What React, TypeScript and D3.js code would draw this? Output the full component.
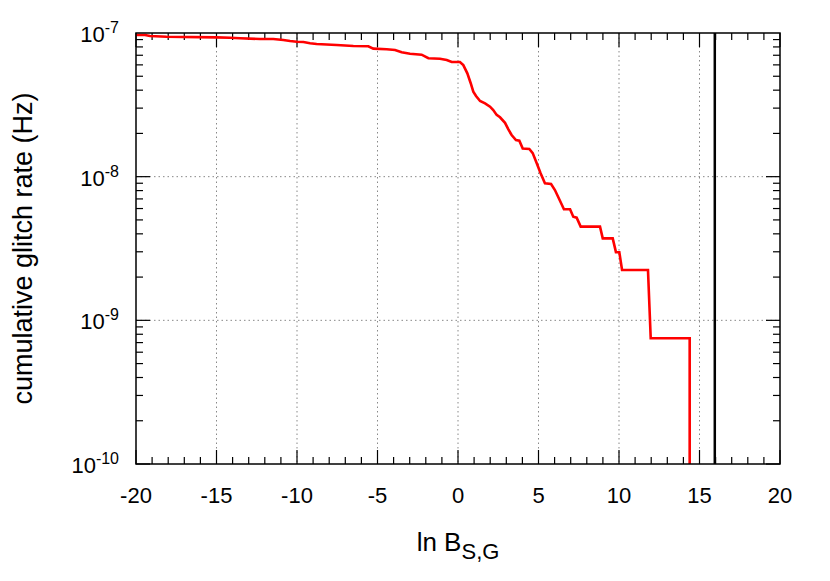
import { useEffect, useRef } from "react";
import * as d3 from "d3";

// cumulative glitch rate vs ln B_S,G
const lnB = [
  -20, -19.44, -19.13, -18.1, -15, -14.16, -13.54, -12.3, -11.47, -10.85,
  -10.43, -10.02, -9.6, -9.19, -8.78, -7.54, -6.5, -5.57, -5.26, -4.43,
  -3.91, -3.5, -2.98, -2.26, -1.84, -1.12, -0.7, -0.39, 0.12, 0.33,
  0.58, 0.79, 0.95, 1.12, 1.37, 1.68, 1.99, 2.19, 2.4, 2.61,
  2.92, 3.12, 3.33, 3.6, 3.81, 4.02, 4.43, 4.64, 4.89, 5.13,
  5.4, 5.78, 6.02, 6.29, 6.58, 6.96, 7.16, 7.37, 7.62, 8.82,
  8.99, 9.61, 9.77, 9.81, 10.02, 10.19, 11.8, 11.97, 14.39, 14.39,
];
const rate = [
  9.68e-8, 9.68e-8, 9.53e-8, 9.42e-8, 9.33e-8, 9.27e-8, 9.19e-8, 9.08e-8, 9.08e-8, 8.94e-8,
  8.8e-8, 8.7e-8, 8.66e-8, 8.48e-8, 8.38e-8, 8.25e-8, 8.12e-8, 8.08e-8, 7.78e-8, 7.7e-8,
  7.61e-8, 7.34e-8, 7.18e-8, 7.06e-8, 6.67e-8, 6.62e-8, 6.49e-8, 6.28e-8, 6.28e-8, 5.98e-8,
  5.24e-8, 4.47e-8, 3.9e-8, 3.64e-8, 3.36e-8, 3.24e-8, 3.07e-8, 2.91e-8, 2.69e-8, 2.59e-8,
  2.37e-8, 2.14e-8, 1.95e-8, 1.8e-8, 1.78e-8, 1.57e-8, 1.56e-8, 1.46e-8, 1.24e-8, 1.055e-8,
  8.99e-9, 8.89e-9, 8.07e-9, 6.96e-9, 5.93e-9, 5.93e-9, 5.26e-9, 5.18e-9, 4.49e-9, 4.49e-9,
  3.72e-9, 3.72e-9, 3.12e-9, 2.98e-9, 2.98e-9, 2.24e-9, 2.24e-9, 7.5e-10, 7.5e-10, 5e-11,
];

const threshold = 15.95;

const xTicks = [-20, -15, -10, -5, 0, 5, 10, 15, 20];
const yExponents = [-10, -9, -8, -7];

const App = () => {
  const svgRef = useRef(null);

  useEffect(() => {
    document.body.style.margin = "0";
    const svg = d3.select(svgRef.current);
    svg.selectAll("*").remove();

    const margin = { top: 33, right: 50, bottom: 117, left: 136 };
    const width = 830 - margin.left - margin.right;
    const height = 581 - margin.top - margin.bottom;
    const font = "'Liberation Sans', Arial, Helvetica, sans-serif";

    const x = d3.scaleLinear().domain([-20, 20]).range([0, width]);
    const y = d3.scaleLog().domain([1e-10, 1e-7]).range([height, 0]);

    const g = svg
      .append("g")
      .attr("transform", `translate(${margin.left},${margin.top})`);

    g.append("clipPath")
      .attr("id", "plot-clip")
      .append("rect")
      .attr("width", width)
      .attr("height", height);

    // grid
    const grid = g.append("g").attr("stroke", "#888").attr("stroke-width", 1)
      .attr("stroke-dasharray", "1.5,3");
    xTicks.slice(1, -1).forEach((t) => {
      grid.append("line").attr("x1", x(t)).attr("x2", x(t)).attr("y1", 0).attr("y2", height);
    });
    yExponents.slice(1, -1).forEach((e) => {
      grid.append("line").attr("x1", 0).attr("x2", width)
        .attr("y1", y(Math.pow(10, e))).attr("y2", y(Math.pow(10, e)));
    });

    // ticks
    const ticks = g.append("g").attr("stroke", "#000").attr("stroke-width", 1.2);
    d3.range(-20, 21, 1).forEach((t) => {
      const len = t % 5 === 0 ? 14 : 7;
      ticks.append("line").attr("x1", x(t)).attr("x2", x(t)).attr("y1", height).attr("y2", height - len);
      ticks.append("line").attr("x1", x(t)).attr("x2", x(t)).attr("y1", 0).attr("y2", len);
    });
    yExponents.slice(0, -1).forEach((e) => {
      d3.range(1, 10).forEach((m) => {
        const v = m * Math.pow(10, e);
        const len = m === 1 ? 14 : 7;
        ticks.append("line").attr("x1", 0).attr("x2", len).attr("y1", y(v)).attr("y2", y(v));
        ticks.append("line").attr("x1", width).attr("x2", width - len).attr("y1", y(v)).attr("y2", y(v));
      });
    });

    // curves
    const pts = lnB.map((d, i) => [d, rate[i]]);
    const line = d3.line().x((d) => x(d[0])).y((d) => y(d[1]));
    g.append("path")
      .datum(pts)
      .attr("clip-path", "url(#plot-clip)")
      .attr("fill", "none")
      .attr("stroke", "#ff0000")
      .attr("stroke-width", 2.6)
      .attr("stroke-linejoin", "miter")
      .attr("d", line);

    g.append("line")
      .attr("x1", x(threshold)).attr("x2", x(threshold))
      .attr("y1", 0).attr("y2", height)
      .attr("stroke", "#000").attr("stroke-width", 2.5);

    // frame
    g.append("rect")
      .attr("width", width).attr("height", height)
      .attr("fill", "none").attr("stroke", "#000").attr("stroke-width", 1.5);

    // tick labels
    xTicks.forEach((t) => {
      g.append("text")
        .attr("x", x(t)).attr("y", height + 39)
        .attr("text-anchor", "middle")
        .attr("font-family", font).attr("font-size", 22)
        .text(t);
    });
    yExponents.forEach((e) => {
      const t = g.append("text")
        .attr("x", -17).attr("y", y(Math.pow(10, e)) + 9)
        .attr("text-anchor", "end")
        .attr("font-family", font).attr("font-size", 22);
      t.append("tspan").text("10");
      t.append("tspan").attr("dy", -9).attr("font-size", 16).text(e);
    });

    // axis titles
    const xt = g.append("text")
      .attr("x", width / 2).attr("y", height + 87)
      .attr("text-anchor", "middle")
      .attr("font-family", font).attr("font-size", 26);
    xt.append("tspan").text("ln B");
    xt.append("tspan").attr("dy", 8).attr("font-size", 22).text("S,G");

    svg.append("text")
      .attr("transform", `translate(32,${margin.top + height / 2}) rotate(-90)`)
      .attr("text-anchor", "middle")
      .attr("font-family", font).attr("font-size", 27)
      .text("cumulative glitch rate (Hz)");
  }, []);

  return <svg ref={svgRef} width={830} height={581} style={{ display: "block", background: "#fff" }} />;
};

export default App;
